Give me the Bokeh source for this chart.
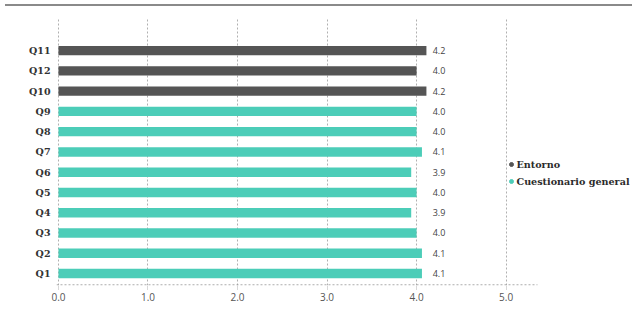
from bokeh.plotting import figure
from bokeh.models import (ColumnDataSource, Range1d, FixedTicker, Legend, LegendItem, Div)
from bokeh.layouts import column
from bokeh.core.properties import value
from bokeh.embed import file_html
from bokeh.resources import INLINE

# ---- data (top to bottom as displayed) ----
questions = ["Q11", "Q12", "Q10", "Q9", "Q8", "Q7", "Q6", "Q5", "Q4", "Q3", "Q2", "Q1"]
bar_values = [4.11, 4.00, 4.11, 4.00, 4.00, 4.06, 3.94, 4.00, 3.94, 4.00, 4.06, 4.06]
value_labels = ["4.2", "4.0", "4.2", "4.0", "4.0", "4.1", "3.9", "4.0", "3.9", "4.0", "4.1", "4.1"]
groups = ["Entorno"] * 3 + ["Cuestionario general"] * 9
series_names = ["Entorno", "Cuestionario general"]
series_colors = ["#555555", "#4ccdb8"]
x_ticks = [0, 1, 2, 3, 4, 5]
x_tick_labels = ["0.0", "1.0", "2.0", "3.0", "4.0", "5.0"]

color_map = dict(zip(series_names, series_colors))
n = len(questions)
ypos = [n - i for i in range(n)]
LABEL_X = 4.18
X_START, X_END, AXIS_END = -0.022, 6.49, 5.35
Y_START, Y_END = 0.407, 13.59

src = ColumnDataSource(dict(
    q=questions, y=ypos, v=bar_values, lab=value_labels,
    g=groups, c=[color_map[g] for g in groups], lx=[LABEL_X] * n,
))

p = figure(width=639, height=310, x_range=Range1d(X_START, X_END), y_range=Range1d(Y_START, Y_END),
           output_backend="svg", toolbar_location=None,
           min_border_left=56, min_border_right=0, min_border_top=11, min_border_bottom=32)
p.outline_line_color = None
p.background_fill_color = "white"
p.border_fill_color = "white"

p.hbar(y="y", right="v", left=0, height=0.46, color="c", line_color=None, source=src)
p.text(x="lx", y="y", text="lab", source=src, text_font=value("Open Sans"),
       text_font_size="9px", text_color="#444444", text_baseline="middle", text_align="left")

# dotted baseline (axis line) that stops short of the legend area
p.segment(x0=[X_START], y0=[Y_START + 0.03], x1=[AXIS_END], y1=[Y_START + 0.03],
          line_color="#9a9a9a", line_dash="2 2", line_width=1)

# x axis
xa = p.xaxis[0]
xa.ticker = FixedTicker(ticks=x_ticks)
xa.major_label_overrides = {t: l for t, l in zip(x_ticks, x_tick_labels)}
xa.axis_line_color = None
xa.major_tick_in = 0
xa.major_tick_out = 4
xa.major_tick_line_color = "#b0b0b0"
xa.major_tick_line_dash = "1 1"
xa.minor_tick_line_color = None
xa.major_label_text_font = "Open Sans"
xa.major_label_text_font_size = "10px"
xa.major_label_text_color = "#555555"
xa.major_label_standoff = 3

# y axis
ya = p.yaxis[0]
ya.ticker = FixedTicker(ticks=ypos)
ya.major_label_overrides = {y: q for y, q in zip(ypos, questions)}
ya.axis_line_color = None
ya.major_tick_line_color = None
ya.major_tick_out = 0
ya.major_tick_in = 0
ya.minor_tick_line_color = None
ya.major_label_text_font = "DejaVu Serif"
ya.major_label_text_font_style = "bold"
ya.major_label_text_font_size = "9.5px"
ya.major_label_text_color = "#333333"
ya.major_label_standoff = 6

p.ygrid.grid_line_color = None
p.xgrid.grid_line_color = "#b0b0b0"
p.xgrid.grid_line_dash = "2 2"

# legend with dots
items = []
for name, col in zip(series_names, series_colors):
    r = p.scatter(x=[float("nan")], y=[float("nan")], marker="circle", size=4,
                  fill_color=col, line_color=col)
    items.append(LegendItem(label=name, renderers=[r]))
leg = Legend(items=items, location=(449.5, 97.5), glyph_width=10, glyph_height=10,
             label_standoff=1, label_height=13, spacing=4, padding=0, margin=0,
             label_text_font="DejaVu Serif", label_text_font_style="bold",
             label_text_font_size="9.6px", label_text_color="#2b2b2b",
             background_fill_alpha=0, border_line_color=None)
p.add_layout(leg)

top_rule = Div(text="", width=627, height=2, margin=(4, 7, 1, 5),
               styles={"background-color": "#8a8a8a"})

layout = column(top_rule, p, spacing=0)
open("out.html", "w").write(file_html(layout, INLINE))
